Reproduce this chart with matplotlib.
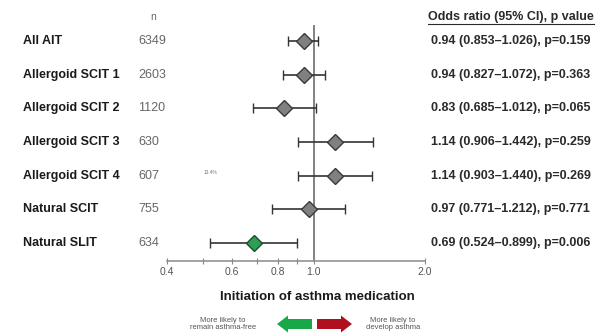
import matplotlib
matplotlib.use("Agg")
import matplotlib.pyplot as plt
from matplotlib.transforms import blended_transform_factory
from matplotlib.patches import FancyArrow

plt.rcParams['font.family'] = ['Liberation Sans', 'DejaVu Sans']

# data
groups = ["All AIT", "Allergoid SCIT 1", "Allergoid SCIT 2", "Allergoid SCIT 3",
          "Allergoid SCIT 4", "Natural SCIT", "Natural SLIT"]
n_pat = [6349, 2603, 1120, 630, 607, 755, 634]
odds = [0.94, 0.94, 0.83, 1.14, 1.14, 0.97, 0.69]
ci_low = [0.853, 0.827, 0.685, 0.906, 0.903, 0.771, 0.524]
ci_high = [1.026, 1.072, 1.012, 1.442, 1.440, 1.212, 0.899]
p_vals = ["0.159", "0.363", "0.065", "0.259", "0.269", "0.771", "0.006"]
major_ticks = [0.4, 0.6, 0.8, 1.0, 2.0]
minor_ticks = [0.5, 0.7, 0.9]

W, H = 602, 336
fig = plt.figure(figsize=(W / 100, H / 100), dpi=100)

# forest axes (pixel box 167..425 x, 25..261 y)
ax = fig.add_axes([167 / W, 1 - 261 / H, (425 - 167) / W, (261 - 25) / H])
ax.set_xscale('log')
ax.set_xlim(0.4, 2.0)
ax.set_ylim(6.535, -0.475)
for s in ['left', 'top', 'right']:
    ax.spines[s].set_visible(False)
ax.spines['bottom'].set_color('#8a8a8a')
ax.spines['bottom'].set_linewidth(1.1)
ax.set_yticks([])
ax.set_xticks(major_ticks)
ax.set_xticklabels(['0.4', '0.6', '0.8', '1.0', '2.0'])
ax.set_xticks(minor_ticks, minor=True)
ax.xaxis.set_minor_formatter(plt.NullFormatter())
ax.tick_params(axis='x', which='both', direction='inout', length=4, width=0.8,
               color='#8a8a8a', labelsize=7.5, labelcolor='#555555', pad=2)
ax.axvline(1.0, color='#777777', lw=1.3, zorder=1)

for i in range(len(groups)):
    green = groups[i] == "Natural SLIT"
    fc = '#2e9e55' if green else '#808080'
    ec = '#1f4d2c' if green else '#3a3a3a'
    ax.errorbar(odds[i], i, xerr=[[odds[i] - ci_low[i]], [ci_high[i] - odds[i]]],
                fmt='D', ms=8.3, mfc=fc, mec=ec, mew=1.0, ecolor='#333333',
                elinewidth=1.2, capsize=3.6, capthick=1.2, zorder=3)

# row texts
tr = blended_transform_factory(fig.transFigure, ax.transData)
for i in range(len(groups)):
    fig.text(23 / W, i, groups[i], transform=tr, fontsize=9, fontweight='bold',
             color='#1a1a1a', va='center', ha='left')
    fig.text(138 / W, i, str(n_pat[i]), transform=tr, fontsize=9,
             color='#666666', va='center', ha='left')
    fig.text(431 / W, i, "%.2f (%.3f\u2013%.3f), p=%s" % (odds[i], ci_low[i], ci_high[i], p_vals[i]),
             transform=tr, fontsize=9, fontweight='bold', color='#2a2a2a',
             va='center', ha='left')

fig.text(153 / W, 1 - 17 / H, "n", fontsize=7.5, color='#666666', ha='center', va='center')
fig.text(428 / W, 1 - 17 / H, "Odds ratio (95% CI), p value", fontsize=9,
         fontweight='bold', color='#2a2a2a', ha='left', va='center')
fig.add_artist(plt.Line2D([428 / W, 594 / W], [1 - 24 / H, 1 - 24 / H],
                          color='#2a2a2a', lw=0.8))
fig.text(210 / W, 1 - 172 / H, "13.4%", fontsize=3.5, color='#777777', ha='center', va='center')

fig.text(317 / W, 1 - 297 / H, "Initiation of asthma medication", fontsize=9.5,
         fontweight='bold', color='#1a1a1a', ha='center', va='center')
fig.text(223 / W, 1 - 324 / H, "More likely to\nremain asthma-free", fontsize=5.5,
         color='#555555', ha='center', va='center', linespacing=1.1)
fig.text(393 / W, 1 - 324 / H, "More likely to\ndevelop asthma", fontsize=5.5,
         color='#555555', ha='center', va='center', linespacing=1.1)

# arrows in a pixel overlay
ov = fig.add_axes([0, 0, 1, 1])
ov.set_xlim(0, W)
ov.set_ylim(H, 0)
ov.axis('off')
ov.add_patch(FancyArrow(312, 324, -35, 0, width=10, head_width=17, head_length=11,
                        length_includes_head=True, color='#18a84a', lw=0))
ov.add_patch(FancyArrow(317, 324, 35, 0, width=10, head_width=17, head_length=11,
                        length_includes_head=True, color='#b0101e', lw=0))

fig.savefig("out.png", dpi=100)
